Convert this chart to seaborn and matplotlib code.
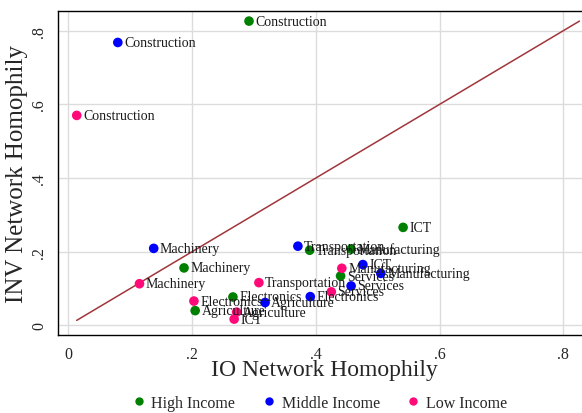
import matplotlib
matplotlib.use("Agg")
import matplotlib.pyplot as plt
import seaborn as sns
import pandas as pd
import numpy as np

# ---- data ----
industries = ["Construction", "ICT", "Transportation", "Manufacturing",
              "Services", "Machinery", "Electronics", "Agriculture"]
groups = ["High Income", "Middle Income", "Low Income"]

high_io = [0.292, 0.541, 0.390, 0.457, 0.440, 0.187, 0.266, 0.205]
high_inv = [0.826, 0.266, 0.204, 0.207, 0.134, 0.156, 0.077, 0.040]

mid_io = [0.080, 0.476, 0.371, 0.505, 0.457, 0.138, 0.391, 0.318]
mid_inv = [0.768, 0.165, 0.215, 0.141, 0.107, 0.209, 0.078, 0.062]

low_io = [0.0136, 0.268, 0.308, 0.442, 0.425, 0.115, 0.203, 0.272]
low_inv = [0.570, 0.017, 0.116, 0.155, 0.091, 0.113, 0.066, 0.036]

x_ticks = [0, 0.2, 0.4, 0.6, 0.8]
x_tick_labels = ["0", ".2", ".4", ".6", ".8"]
y_ticks = [0, 0.2, 0.4, 0.6, 0.8]
y_tick_labels = ["0", ".2", ".4", ".6", ".8"]

colors = {"High Income": "#008000", "Middle Income": "#0000ff", "Low Income": "#ff0a78"}

frames = []
for g, xs, ys in [("High Income", high_io, high_inv),
                  ("Middle Income", mid_io, mid_inv),
                  ("Low Income", low_io, low_inv)]:
    frames.append(pd.DataFrame({"industry": industries, "io": xs, "inv": ys, "group": g}))
df = pd.concat(frames, ignore_index=True)

# ---- plot ----
sns.set_style("white")
plt.rcParams["font.family"] = ["Liberation Serif", "DejaVu Serif"]

fig = plt.figure(figsize=(5.82, 4.14), dpi=100)
ax = fig.add_axes([0.1002, 0.189, 0.9136, 0.782])

ax.set_xlim(-0.01616, 0.8431)
ax.set_ylim(-0.0255, 0.8534)

ax.set_xticks(x_ticks)
ax.set_xticklabels(x_tick_labels)
ax.set_yticks(y_ticks)
ax.set_yticklabels(y_tick_labels, rotation=90, va="center")
ax.grid(True, color="#dcdcdc", linewidth=1.0)
ax.set_axisbelow(True)

# 45-degree reference line
lo = min(df["io"].min(), df["inv"].min())
hi = max(df["io"].max(), df["inv"].max())
ax.plot([lo, hi], [lo, hi], color="#a0363b", linewidth=1.1, zorder=2)

sns.scatterplot(data=df, x="io", y="inv", hue="group", hue_order=groups,
                palette=colors, s=48, edgecolor="none", ax=ax, zorder=3,
                legend=False)

for _, r in df.iterrows():
    ax.annotate(r["industry"], (r["io"], r["inv"]), xytext=(4.5, 0),
                textcoords="offset points", va="center", ha="left",
                fontsize=10, color="#1a1a1a", zorder=4)

for s in ["left", "bottom", "top"]:
    ax.spines[s].set_color("black")
    ax.spines[s].set_linewidth(1.0)
ax.spines["right"].set_visible(False)

ax.tick_params(axis="both", direction="out", length=5, width=0.8,
               color="#333333", labelsize=11.5, pad=3)
ax.set_xlabel("IO Network Homophily", fontsize=17, labelpad=-2)
ax.set_ylabel("INV Network Homophily", fontsize=18, labelpad=2)

handles = [plt.Line2D([], [], marker="o", linestyle="", markersize=6,
                      markerfacecolor=colors[g], markeredgecolor="none", label=g)
           for g in groups]
fig.legend(handles=handles, loc="center", bbox_to_anchor=(0.548, 0.024), ncol=3,
           frameon=False, fontsize=11.5, handletextpad=0.3, columnspacing=1.6,
           handlelength=1.0)

fig.savefig("out.png", dpi=100)
